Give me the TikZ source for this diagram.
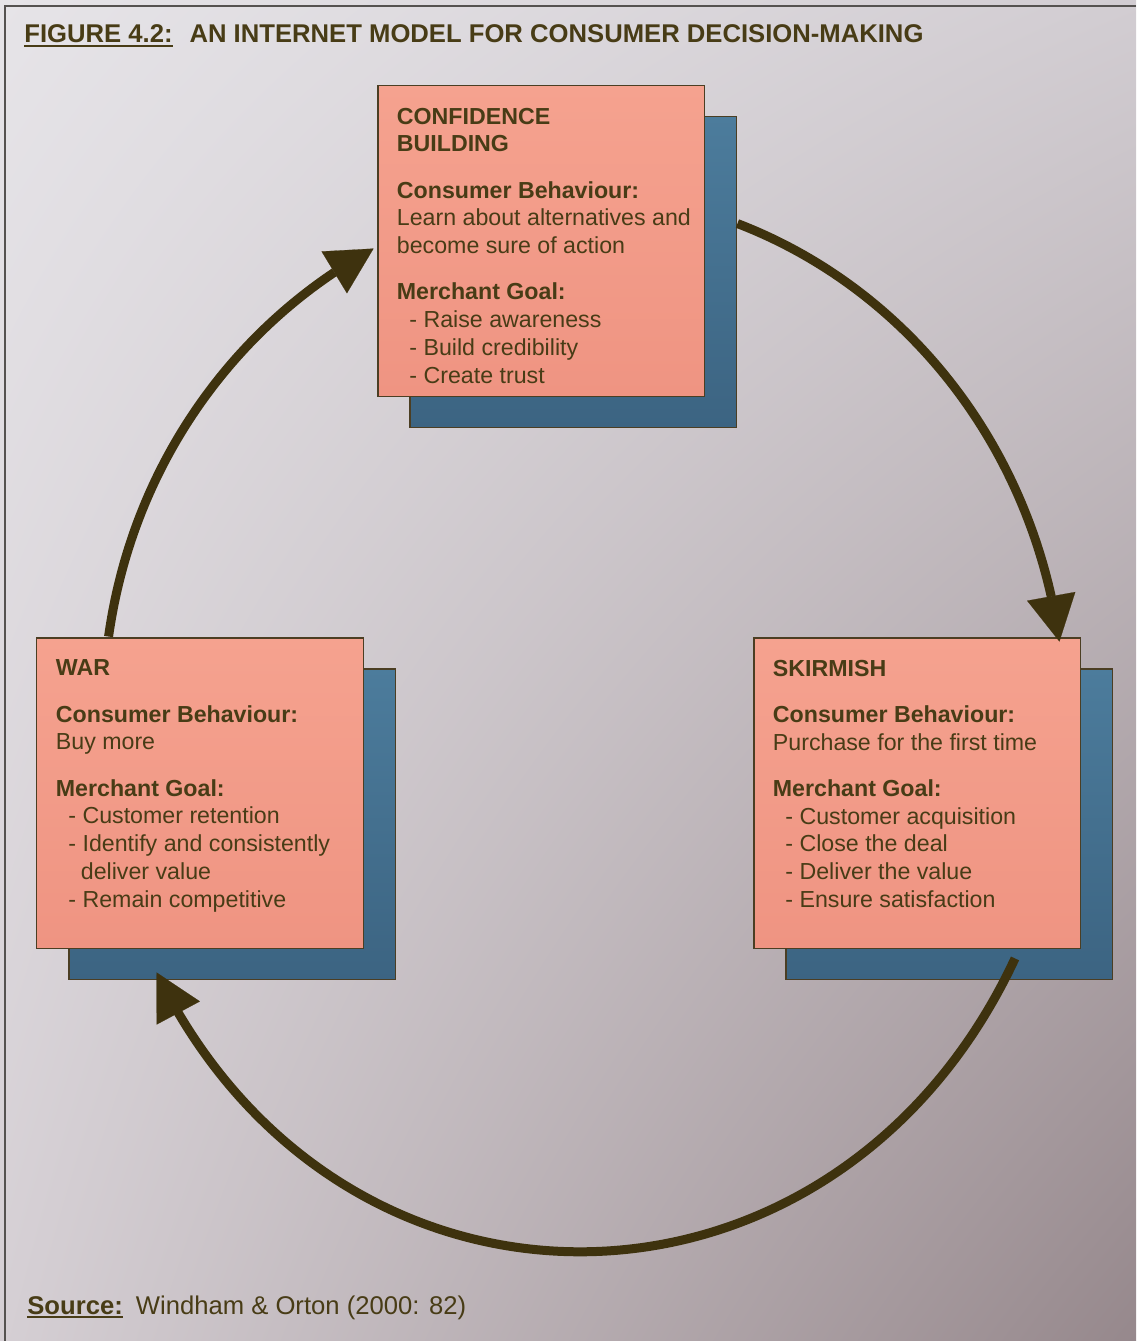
\documentclass[tikz,border=0pt]{standalone}
\usepackage{fontspec}
\setmainfont{Liberation Sans}
\usetikzlibrary{arrows.meta, positioning, bending, calc, shadings}
\definecolor{myPink}{RGB}{239,148,130}
\definecolor{myPinkLight}{RGB}{245,162,143}
\definecolor{myBlue}{RGB}{76,124,156}
\definecolor{myBlueDark}{RGB}{60,100,130}
\definecolor{myOlive}{RGB}{72,60,22}
\definecolor{myArrow}{RGB}{62,50,14}
\definecolor{myEdge}{RGB}{75,62,35}
\definecolor{myFrame}{RGB}{85,82,80}
\definecolor{bgTL}{RGB}{230,228,232}
\definecolor{bgTR}{RGB}{210,205,210}
\definecolor{bgBL}{RGB}{213,207,212}
\definecolor{bgBR}{RGB}{150,136,140}
% 굵은 밑줄
\newcommand{\thickul}[1]{\setbox0=\hbox{#1}\rlap{\rule[-2.4pt]{\wd0}{1pt}}\box0}

\begin{document}
\begin{tikzpicture}[
    x=0.02cm, y=0.02cm,
    % --- 스타일 정의 ---
    % 1. 박스 스타일
    stagebox/.style={rectangle, draw=myEdge, line width=1.1pt, top color=myPinkLight, bottom color=myPink, minimum width=6.54cm, minimum height=6.22cm, inner sep=0pt},
    shadowbox/.style={stagebox, top color=myBlue, bottom color=myBlueDark},
    % 2. 화살표 스타일
    cyclearrow/.style={-{Triangle[length=0.92cm, width=0.98cm, line width=0.1pt]}, line width=0.18cm, myArrow},
    % 3. 텍스트 스타일
    stagetext/.style={anchor=north west, inner sep=0pt, align=left, text=myOlive, font=\fontsize{13.2}{15.8}\selectfont},
    titletext/.style={anchor=base west, inner sep=0pt, text=myOlive, font=\fontsize{14.6}{17}\selectfont\bfseries},
    sourcetext/.style={anchor=base west, inner sep=0pt, text=myOlive, font=\fontsize{14.6}{17}\selectfont}
]
\useasboundingbox (0,0) rectangle (1136,-1341);

% === 1단계: 배경과 테두리 ===
\shade[upper left=bgTL, upper right=bgTR, lower left=bgBL, lower right=bgBR] (0,0) rectangle (1136,-1341);
\draw[myFrame, line width=1.2pt] (5,-1341) |- (1136,-6);

\node[titletext] (title) at (24,-43) {\thickul{FIGURE 4.2:}\hspace{0.34cm}AN INTERNET MODEL FOR CONSUMER DECISION-MAKING};

% === 2단계: 박스 (그림자 먼저) ===
\node[shadowbox] (confsh) at (573,-272) {};
\node[stagebox] (conf) at ($(confsh)+(-32,31)$) {};
\node[shadowbox] (warsh) at (232,-824) {};
\node[stagebox] (war) at ($(warsh)+(-32,31)$) {};
\node[shadowbox] (skirmsh) at (949,-824) {};
\node[stagebox] (skirm) at ($(skirmsh)+(-32,31)$) {};

% 박스 안 글
\node[stagetext] (conftxt) at ($(conf.north west)+(20,-23)$) {\textbf{CONFIDENCE}\\\textbf{BUILDING}\\[0.37cm]
\textbf{Consumer Behaviour:}\\Learn about alternatives and\\become sure of action\\[0.37cm]
\textbf{Merchant Goal:}\\\hspace*{0.25cm}- Raise awareness\\\hspace*{0.25cm}- Build credibility\\\hspace*{0.25cm}- Create trust};

\node[stagetext] (wartxt) at ($(war.north west)+(20,-23)$) {\textbf{WAR}\\[0.37cm]
\textbf{Consumer Behaviour:}\\Buy more\\[0.37cm]
\textbf{Merchant Goal:}\\\hspace*{0.25cm}- Customer retention\\\hspace*{0.25cm}- Identify and consistently\\\hspace*{0.5cm}deliver value\\\hspace*{0.25cm}- Remain competitive};

\node[stagetext] (skirmtxt) at ($(skirm.north west)+(20,-23)$) {\textbf{SKIRMISH}\\[0.37cm]
\textbf{Consumer Behaviour:}\\Purchase for the first time\\[0.37cm]
\textbf{Merchant Goal:}\\\hspace*{0.25cm}- Customer acquisition\\\hspace*{0.25cm}- Close the deal\\\hspace*{0.25cm}- Deliver the value\\\hspace*{0.25cm}- Ensure satisfaction};

% === 3단계: 순환 화살표 (타원 모양으로 out/in 맞춤) ===
\draw[cyclearrow] ($(confsh.north east)+(0,-108)$) to[out=-21, in=98, out distance=3.63cm, in distance=3.95cm] ($(skirm.north east)+(-22,-5)$);
\draw[cyclearrow] ($(skirmsh.south)+(66,22)$) to[out=245, in=-64, out distance=8.46cm, in distance=8.46cm] ($(warsh.south west)+(89,8)$);
\draw[cyclearrow] ($(war.north west)+(73,0)$) to[out=82, in=208.6, out distance=3.46cm, in distance=3.17cm] ($(conf.north west)+(-3,-164)$);

% === 4단계: 출처 ===
\node[sourcetext] (source) at (27,-1314) {\thickul{\textbf{Source:}}\hspace{0.26cm}Windham \& Orton (2000: 82)};

\end{tikzpicture}
\end{document}
